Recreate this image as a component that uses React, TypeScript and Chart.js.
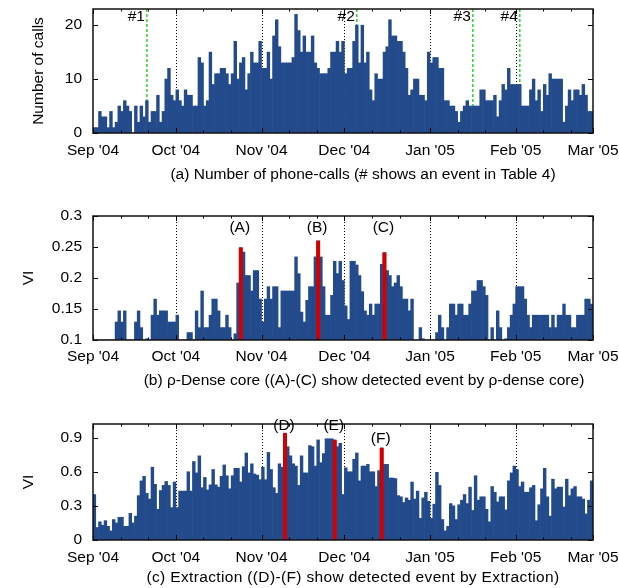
import React, { useEffect, useRef } from "react";
import { Chart, registerables } from "chart.js";

Chart.register(...registerables);

const FONT = "'Liberation Sans', Arial, Helvetica, sans-serif";
const FS = 15.5;
const BLUE = "#234b8c";
const RED = "#d40000";
const GREEN = "#2fd42f";

// day offsets from Sep 1 2004 of each month start
const monthTicks = [0, 30, 61, 91, 122, 153, 181];
const monthLabels = ["Sep '04", "Oct '04", "Nov '04", "Dec '04", "Jan '05", "Feb '05", "Mar '05"];

// (a) daily number of phone calls, Sep 1 2004 .. Feb 28 2005
const calls = [
  1, 1, 4, 3, 3, 1, 4, 1, 2, 5,
  4, 6, 5, 4, 0, 5, 2, 5, 3, 6,
  2, 4, 4, 7, 2, 4, 10, 12, 7, 6,
  8, 6, 5, 8, 7, 7, 5, 5, 14, 13,
  5, 6, 15, 9, 11, 11, 12, 12, 11, 9,
  11, 17, 10, 13, 14, 8, 11, 15, 13, 13,
  17, 12, 12, 15, 10, 18, 21, 16, 13, 13,
  13, 13, 14, 22, 19, 15, 18, 15, 15, 18,
  13, 12, 11, 11, 11, 12, 15, 15, 17, 15,
  17, 11, 12, 12, 17, 20, 13, 20, 13, 15,
  8, 6, 11, 10, 10, 15, 16, 21, 18, 18,
  17, 17, 15, 12, 7, 8, 10, 10, 7, 7,
  6, 15, 13, 14, 14, 12, 12, 6, 6, 5,
  5, 4, 2, 4, 5, 6, 5, 5, 5, 5,
  8, 8, 6, 6, 6, 7, 3, 6, 9, 8,
  12, 9, 9, 9, 9, 5, 5, 5, 8, 10,
  6, 8, 4, 9, 7, 11, 10, 10, 10, 10,
  2, 5, 8, 6, 8, 8, 7, 9, 7, 4,
  4,
];
const callEvents = [19, 95, 137, 154];
const callEventLabels = ["#1", "#2", "#3", "#4"];

// (b) VI of rho-dense core
const dense = [
  0.1, 0.1, 0.1, 0.1, 0.1, 0.1, 0.1, 0.1, 0.129, 0.147,
  0.129, 0.147, 0.1, 0.1, 0.1, 0.129, 0.147, 0.12, 0.1, 0.102,
  0.1, 0.14, 0.166, 0.14, 0.147, 0.147, 0.147, 0.129, 0.129, 0.129,
  0.14, 0.1, 0.1, 0.1, 0.112, 0.112, 0.1, 0.147, 0.12, 0.179,
  0.12, 0.12, 0.14, 0.166, 0.166, 0.147, 0.12, 0.12, 0.14, 0.12,
  0.1, 0.11, 0.192, 0.249, 0.242, 0.204, 0.204, 0.179, 0.212, 0.212,
  0.166, 0.129, 0.166, 0.186, 0.166, 0.186, 0.186, 0.12, 0.179, 0.179,
  0.179, 0.179, 0.179, 0.234, 0.207, 0.145, 0.129, 0.164, 0.186, 0.186,
  0.234, 0.26, 0.234, 0.186, 0.14, 0.14, 0.172, 0.227, 0.207, 0.227,
  0.196, 0.155, 0.133, 0.227, 0.227, 0.221, 0.204, 0.178, 0.147, 0.14,
  0.158, 0.14, 0.158, 0.158, 0.222, 0.241, 0.212, 0.204, 0.186, 0.192,
  0.204, 0.186, 0.166, 0.166, 0.147, 0.166, 0.1, 0.1, 0.12, 0.102,
  0.1, 0.1, 0.1, 0.1, 0.112, 0.14, 0.12, 0.1, 0.12, 0.158,
  0.158, 0.14, 0.158, 0.158, 0.14, 0.14, 0.158, 0.179, 0.179, 0.196,
  0.196, 0.186, 0.172, 0.1, 0.12, 0.1, 0.147, 0.12, 0.1, 0.102,
  0.12, 0.14, 0.158, 0.186, 0.186, 0.186, 0.166, 0.14, 0.12, 0.14,
  0.14, 0.14, 0.14, 0.14, 0.14, 0.12, 0.14, 0.12, 0.14, 0.14,
  0.158, 0.14, 0.14, 0.12, 0.12, 0.14, 0.14, 0.14, 0.166, 0.166,
  0.158,
];
const denseEvents = [53, 81, 105];
const denseEventLabels = ["(A)", "(B)", "(C)"];
const denseLabelLevels = [0.274, 0.274, 0.274];

// (c) VI of extraction
const extraction = [
  0.4, 0.11, 0.16, 0.13, 0.17, 0.12, 0.08, 0.18, 0.15, 0.2,
  0.2, 0.12, 0.12, 0.235, 0.15, 0.21, 0.39, 0.52, 0.56, 0.41,
  0.36, 0.64, 0.49, 0.27, 0.435, 0.48, 0.515, 0.48, 0.285, 0.51,
  0.285, 0.43, 0.43, 0.43, 0.6, 0.43, 0.69, 0.59, 0.74, 0.46,
  0.55, 0.44, 0.485, 0.62, 0.485, 0.465, 0.56, 0.66, 0.565, 0.45,
  0.565, 0.63, 0.63, 0.51, 0.645, 0.765, 0.59, 0.67, 0.58, 0.57,
  0.53, 0.64, 0.53, 0.77, 0.62, 0.46, 0.41, 0.67, 0.64, 0.94,
  0.82, 0.74, 0.67, 0.65, 0.48, 0.74, 0.59, 0.59, 0.83, 0.82,
  0.65, 0.88, 0.68, 0.76, 0.89, 0.89, 0.89, 0.88, 0.82, 0.85,
  0.4, 0.635, 0.6, 0.6, 0.71, 0.765, 0.52, 0.65, 0.65, 0.665,
  0.6, 0.6, 0.47, 0.61, 0.81, 0.665, 0.665, 0.545, 0.545, 0.54,
  0.39, 0.38, 0.33, 0.37, 0.35, 0.51, 0.36, 0.43, 0.19, 0.37,
  0.42, 0.34, 0.19, 0.315, 0.595, 0.48, 0.18, 0.08, 0.12, 0.32,
  0.3, 0.18, 0.31, 0.35, 0.4, 0.32, 0.465, 0.26, 0.565, 0.35,
  0.38, 0.38, 0.27, 0.16, 0.47, 0.42, 0.335, 0.38, 0.38, 0.265,
  0.52, 0.59, 0.65, 0.62, 0.47, 0.51, 0.42, 0.42, 0.46, 0.48,
  0.17, 0.31, 0.45, 0.63, 0.38, 0.21, 0.535, 0.45, 0.465, 0.465,
  0.29, 0.535, 0.39, 0.45, 0.47, 0.38, 0.38, 0.36, 0.23, 0.35,
  0.52,
];
const extractionEvents = [69, 87, 104];
const extractionEventLabels = ["(D)", "(E)", "(F)"];
const extractionLabelLevels = [0.967, 0.967, 0.853];

const yTicksA = [0, 10, 20];
const yTicksB = [0.1, 0.15, 0.2, 0.25, 0.3];
const yTicksC = [0, 0.3, 0.6, 0.9];

type PanelCfg = {
  values: number[];
  yMin: number;
  yMax: number;
  yTicks: number[];
  yTitle: string;
  yTitlePad: number;
  top: number;
  height: number;
  areaTop: number;
  areaBottom: number;
  tickPad: number;
  caption: string;
  captionX: number;
  captionY: number;
  captionSpacing: number;
  events: number[];
  eventKind: "line" | "bar";
  eventLabels: string[];
  labelLevels: number[];
};

const panels: PanelCfg[] = [
  {
    values: calls, yMin: 0, yMax: 23, yTicks: yTicksA, yTitle: "Number of calls", yTitlePad: 29,
    top: 0, height: 195, areaTop: 9, areaBottom: 133, tickPad: 8.5,
    caption: "(a) Number of phone-calls (# shows an event in Table 4)", captionX: 363, captionY: 179, captionSpacing: 0,
    events: callEvents, eventKind: "line", eventLabels: callEventLabels, labelLevels: [],
  },
  {
    values: dense, yMin: 0.1, yMax: 0.3, yTicks: yTicksB, yTitle: "VI", yTitlePad: 19,
    top: 195, height: 195, areaTop: 216, areaBottom: 340, tickPad: 7.5,
    caption: "(b) \u03c1-Dense core ((A)-(C) show detected event by \u03c1-dense core)", captionX: 364, captionY: 385, captionSpacing: 0,
    events: denseEvents, eventKind: "bar", eventLabels: denseEventLabels, labelLevels: denseLabelLevels,
  },
  {
    values: extraction, yMin: 0, yMax: 1.02, yTicks: yTicksC, yTitle: "VI", yTitlePad: 19,
    top: 390, height: 198, areaTop: 424, areaBottom: 540, tickPad: 8,
    caption: "(c) Extraction ((D)-(F) show detected event by Extraction)", captionX: 353, captionY: 582, captionSpacing: 0.35,
    events: extractionEvents, eventKind: "bar", eventLabels: extractionEventLabels, labelLevels: extractionLabelLevels,
  },
];

function makeDecor(cfg: PanelCfg) {
  return {
    id: "decor",
    beforeDatasetsDraw(chart: any) {
      const { ctx, chartArea: a, scales } = chart;
      const x = scales.x;
      ctx.save();
      ctx.strokeStyle = "#000";
      ctx.lineWidth = 1;
      ctx.setLineDash([1, 2]);
      for (const m of monthTicks.slice(1, -1)) {
        const px = Math.round(x.getPixelForValue(m)) + 0.5;
        ctx.beginPath();
        ctx.moveTo(px, a.top);
        ctx.lineTo(px, a.bottom);
        ctx.stroke();
      }
      if (cfg.eventKind === "line") {
        ctx.strokeStyle = GREEN;
        ctx.lineWidth = 1.5;
        ctx.setLineDash([3, 2]);
        for (const d of cfg.events) {
          const px = x.getPixelForValue(d + 0.5);
          ctx.beginPath();
          ctx.moveTo(px, a.top);
          ctx.lineTo(px, a.bottom);
          ctx.stroke();
        }
      }
      ctx.restore();
    },
    afterDraw(chart: any) {
      const { ctx, chartArea: a, scales } = chart;
      const x = scales.x;
      const y = scales.y;
      ctx.save();
      ctx.setLineDash([]);
      ctx.strokeStyle = "#000";
      ctx.lineWidth = 1;
      // inward ticks
      const minor: number[] = [];
      for (const m of monthTicks.slice(0, -1)) minor.push(m + 10, m + 20);
      ctx.beginPath();
      for (const m of monthTicks) {
        const px = Math.round(x.getPixelForValue(m)) + 0.5;
        ctx.moveTo(px, a.top); ctx.lineTo(px, a.top + 5);
        ctx.moveTo(px, a.bottom); ctx.lineTo(px, a.bottom - 5);
      }
      for (const m of minor) {
        const px = Math.round(x.getPixelForValue(m)) + 0.5;
        ctx.moveTo(px, a.top); ctx.lineTo(px, a.top + 2.5);
        ctx.moveTo(px, a.bottom); ctx.lineTo(px, a.bottom - 2.5);
      }
      for (const v of cfg.yTicks) {
        const py = Math.round(y.getPixelForValue(v)) + 0.5;
        ctx.moveTo(a.left, py); ctx.lineTo(a.left + 5, py);
        ctx.moveTo(a.right, py); ctx.lineTo(a.right - 5, py);
      }
      ctx.stroke();
      // frame
      ctx.lineWidth = 1.5;
      ctx.strokeStyle = "#111";
      ctx.strokeRect(a.left, a.top, a.right - a.left, a.bottom - a.top);
      // labels
      ctx.fillStyle = "#000";
      ctx.font = `${FS}px ${FONT}`;
      ctx.textBaseline = "alphabetic";
      cfg.events.forEach((d, i) => {
        const px = x.getPixelForValue(d + 0.5);
        if (cfg.eventKind === "line") {
          ctx.textAlign = "right";
          ctx.fillText(cfg.eventLabels[i], px - 2, a.top + 12);
        } else {
          ctx.textAlign = "center";
          ctx.fillText(cfg.eventLabels[i], px - 1, y.getPixelForValue(cfg.labelLevels[i]));
        }
      });
      ctx.textAlign = "center";
      if (cfg.captionSpacing) (ctx as any).letterSpacing = `${cfg.captionSpacing}px`;
      ctx.fillText(cfg.caption, cfg.captionX, cfg.captionY - cfg.top);
      ctx.restore();
    },
  };
}

function Panel({ cfg }: { cfg: PanelCfg }) {
  const ref = useRef<HTMLCanvasElement>(null);
  useEffect(() => {
    const canvas = ref.current;
    if (!canvas) return;
    const datasets: any[] = [];
    if (cfg.eventKind === "bar") {
      datasets.push({
        label: "detected",
        data: cfg.events.map((d) => ({ x: d + 0.5, y: cfg.values[d] })),
        backgroundColor: RED,
        borderWidth: 0,
        barPercentage: 1.45,
        categoryPercentage: 1,
        grouped: false,
        order: 0,
      });
    }
    datasets.push({
      label: "main",
      data: cfg.values.map((v, i) => ({ x: i + 0.5, y: v })),
      backgroundColor: BLUE,
      borderWidth: 0,
      barPercentage: 1,
      categoryPercentage: 1,
      grouped: false,
      order: 1,
    });
    const xH = cfg.top + cfg.height - cfg.areaBottom;
    const chart = new Chart(canvas, {
      type: "bar",
      data: { datasets },
      options: {
        animation: false,
        responsive: false,
        maintainAspectRatio: false,
        devicePixelRatio: 1,
        events: [],
        layout: { padding: { left: 0, right: 26, top: cfg.areaTop - cfg.top, bottom: 0 } },
        plugins: { legend: { display: false }, tooltip: { enabled: false }, title: { display: false } },
        scales: {
          x: {
            type: "linear",
            min: 0,
            max: 181,
            offset: false,
            grid: { display: false, drawTicks: false },
            border: { display: false },
            afterBuildTicks: (s: any) => { s.ticks = monthTicks.map((v) => ({ value: v })); },
            afterFit: (s: any) => { s.height = xH; s.paddingLeft = 0; s.paddingRight = 0; },
            ticks: {
              autoSkip: false, maxRotation: 0, minRotation: 0, padding: cfg.tickPad, color: "#000",
              font: { family: FONT, size: FS },
              callback: (v: any) => monthLabels[monthTicks.indexOf(Number(v))] ?? "",
            },
          },
          y: {
            type: "linear",
            min: cfg.yMin,
            max: cfg.yMax,
            grid: { display: false, drawTicks: false },
            border: { display: false },
            afterBuildTicks: (s: any) => { s.ticks = cfg.yTicks.map((v) => ({ value: v })); },
            afterFit: (s: any) => { s.width = 93; s.paddingTop = 0; s.paddingBottom = 0; },
            ticks: { padding: 11, color: "#000", font: { family: FONT, size: FS }, callback: (v: any) => String(v) },
            title: { display: true, text: cfg.yTitle, color: "#000", font: { family: FONT, size: FS }, padding: { top: cfg.yTitlePad, bottom: 0 } },
          },
        },
      } as any,
      plugins: [makeDecor(cfg)],
    });
    return () => chart.destroy();
  }, [cfg]);
  return (
    <canvas
      ref={ref}
      width={619}
      height={cfg.height}
      style={{ position: "absolute", left: 0, top: cfg.top, width: 619, height: cfg.height }}
    />
  );
}

export default function App() {
  return (
    <div style={{ position: "absolute", left: 0, top: 0, width: 619, height: 588, background: "#fff" }}>
      {panels.map((p, i) => (
        <Panel key={i} cfg={p} />
      ))}
    </div>
  );
}
